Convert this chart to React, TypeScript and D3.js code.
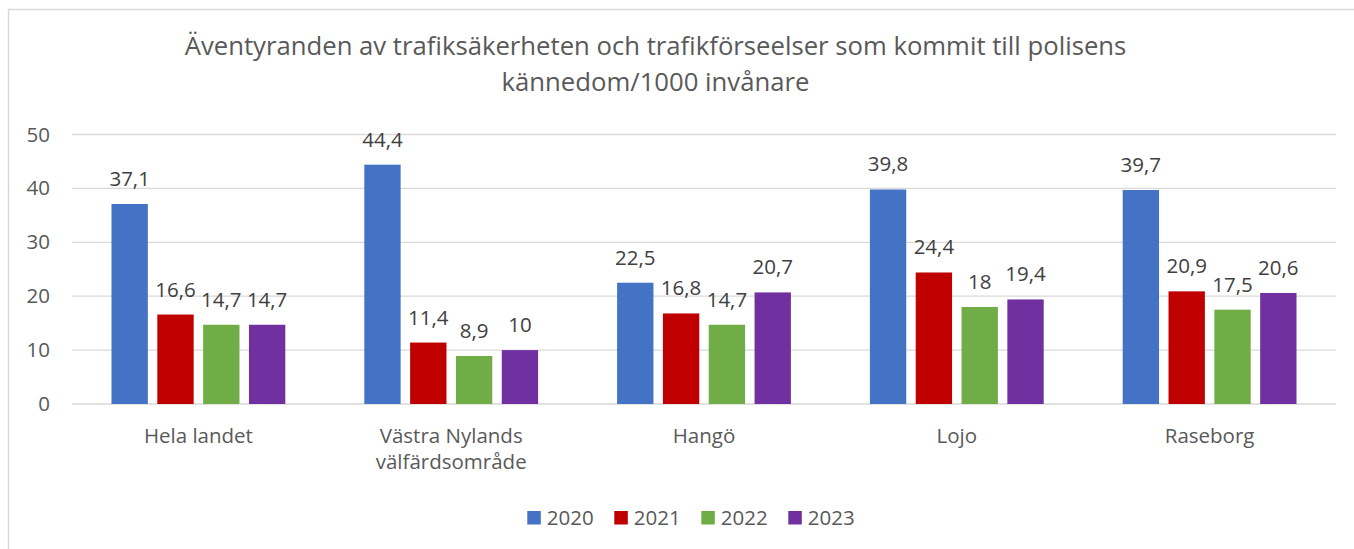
import React from "react";
import * as d3 from "d3";

const categories = ["Hela landet", "Västra Nylands välfärdsområde", "Hangö", "Lojo", "Raseborg"];
const categoryLines = [["Hela landet"], ["Västra Nylands", "välfärdsområde"], ["Hangö"], ["Lojo"], ["Raseborg"]];
const years = ["2020", "2021", "2022", "2023"];
const v2020 = [37.1, 44.4, 22.5, 39.8, 39.7];
const v2021 = [16.6, 11.4, 16.8, 24.4, 20.9];
const v2022 = [14.7, 8.9, 14.7, 18, 17.5];
const v2023 = [14.7, 10, 20.7, 19.4, 20.6];
const seriesValues = [v2020, v2021, v2022, v2023];
const colors = ["#4472C4", "#C00000", "#70AD47", "#7030A0"];
const yTicks = [0, 10, 20, 30, 40, 50];
const titleLines = [
  "Äventyranden av trafiksäkerheten och trafikförseelser som kommit till polisens",
  "kännedom/1000 invånare",
];

const W = 1354;
const H = 549;
const FONT = "'Open Sans', sans-serif";

export default function App() {
  const left = 72;
  const right = 1336;
  const y = d3.scaleLinear().domain([0, 50]).range([404, 134.5]);
  const x0 = d3.scaleBand<string>().domain(categories).range([left, right]).padding(0);
  const x1 = d3
    .scaleBand<string>()
    .domain(years)
    .range([39.5, x0.bandwidth() - 39.5])
    .paddingInner(0.207)
    .paddingOuter(0);
  const fmt = (v: number) => String(v).replace(".", ",");

  return (
    <svg
      width={W}
      height={H}
      style={{ position: "absolute", left: 0, top: 0, background: "#fff" }}
      fontFamily={FONT}
    >
      <rect x={0} y={0} width={W} height={H} fill="#fff" />
      <path d={`M8.5,${H} V9.5 H${W}`} fill="none" stroke="#D9D9D9" strokeWidth={1.5} />
      {titleLines.map((t, i) => (
        <text key={i} x={655.5} y={55 + i * 36} textAnchor="middle" fontSize={25.7} fill="#595959">
          {t}
        </text>
      ))}
      {yTicks.map((t) => (
        <g key={t}>
          <line x1={left} x2={right} y1={y(t)} y2={y(t)} stroke="#D9D9D9" strokeWidth={1.3} />
          <text x={50} y={y(t) + 7} textAnchor="end" fontSize={20.5} fill="#595959">
            {t}
          </text>
        </g>
      ))}
      {categories.map((c, ci) => (
        <g key={c} transform={`translate(${x0(c)},0)`}>
          {years.map((yr, si) => {
            const v = seriesValues[si][ci];
            const bx = x1(yr)!;
            return (
              <g key={yr}>
                <rect x={bx} y={y(v)} width={x1.bandwidth()} height={y(0) - y(v)} fill={colors[si]} />
                <text
                  x={bx + x1.bandwidth() / 2}
                  y={y(v) - 18}
                  textAnchor="middle"
                  fontSize={20.5}
                  fill="#404040"
                >
                  {fmt(v)}
                </text>
              </g>
            );
          })}
          {categoryLines[ci].map((ln, li) => (
            <text
              key={li}
              x={x0.bandwidth() / 2}
              y={443 + li * 26}
              textAnchor="middle"
              fontSize={20.5}
              fill="#595959"
            >
              {ln}
            </text>
          ))}
        </g>
      ))}
      {years.map((yr, i) => (
        <g key={yr} transform={`translate(${527.3 + i * 87},511)`}>
          <rect x={0} y={0} width={13.5} height={13.5} fill={colors[i]} />
          <text x={19.5} y={14} fontSize={20.5} fill="#595959">
            {yr}
          </text>
        </g>
      ))}
    </svg>
  );
}
